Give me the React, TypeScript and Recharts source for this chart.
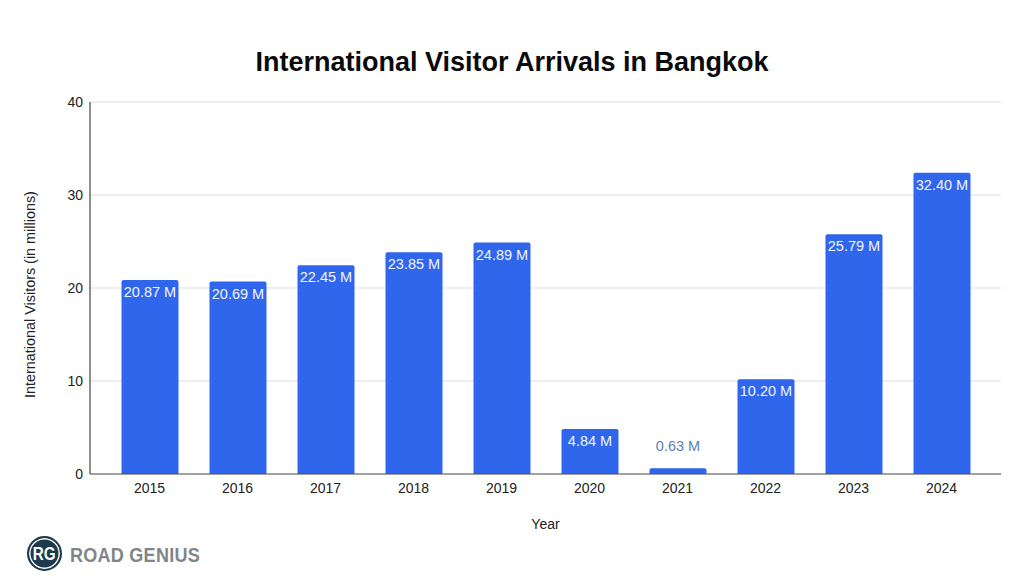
import { BarChart, Bar, XAxis, YAxis, CartesianGrid, LabelList } from "recharts";

const YEARS = ["2015", "2016", "2017", "2018", "2019", "2020", "2021", "2022", "2023", "2024"];
const VISITORS = [20.87, 20.69, 22.45, 23.85, 24.89, 4.84, 0.63, 10.2, 25.79, 32.4];
const Y_TICKS = [0, 10, 20, 30, 40];

const data = YEARS.map((year, i) => ({ year, visitors: VISITORS[i] }));

const FONT = "Liberation Sans, Arial, sans-serif";

function BarValue(props: any) {
  const { x, y, width, value } = props;
  const small = value < 1;
  return (
    <text
      x={x + width / 2}
      y={small ? y - 17 : y + 17}
      textAnchor="middle"
      fontFamily={FONT}
      fontSize={14.5}
      fill={small ? "#5f7db5" : "#f2f5fc"}
    >
      {value.toFixed(2)} M
    </text>
  );
}

export default function App() {
  return (
    <div style={{ position: "absolute", left: 0, top: 0, width: 1024, height: 582, background: "#fff", fontFamily: FONT }}>
      <div
        style={{
          position: "absolute",
          left: 0,
          width: 1024,
          top: 45,
          textAlign: "center",
          fontSize: 27,
          fontWeight: 700,
          color: "#0a0a0a",
          lineHeight: "34px",
        }}
      >
        International Visitor Arrivals in Bangkok
      </div>
      <BarChart
        width={1024}
        height={582}
        data={data}
        margin={{ top: 102, right: 23, bottom: 58, left: 40 }}
      >
        <CartesianGrid vertical={false} stroke="#dddddd" strokeWidth={1} />
        <XAxis
          dataKey="year"
          height={50}
          padding={{ left: 15.5, right: 15.5 }}
          axisLine={{ stroke: "#555555", strokeWidth: 1.2 }}
          tickLine={false}
          tickMargin={3}
          tick={{ fontSize: 14, fill: "#222222", fontFamily: FONT }}
          label={{ value: "Year", position: "insideBottom", offset: -5, fontSize: 14, fill: "#222222", fontFamily: FONT }}
        />
        <YAxis
          width={50}
          domain={[0, 40]}
          ticks={Y_TICKS}
          axisLine={{ stroke: "#444444", strokeWidth: 1.2 }}
          tickLine={false}
          tickMargin={1}
          tick={{ fontSize: 14, fill: "#222222", fontFamily: FONT }}
          label={{
            value: "International Visitors (in millions)",
            angle: -90,
            position: "insideLeft",
            dx: -15,
            dy: 110,
            fontSize: 14.4,
            fill: "#222222",
            fontFamily: FONT,
          }}
        />
        <Bar dataKey="visitors" fill="#2f66ec" barSize={57} radius={[2, 2, 0, 0]} isAnimationActive={false}>
          <LabelList dataKey="visitors" content={BarValue} />
        </Bar>
      </BarChart>
      <div
        style={{
          position: "absolute",
          left: 27,
          top: 536,
          width: 35,
          height: 35,
          borderRadius: "50%",
          background: "#1e3a4c",
          color: "#fff",
          boxSizing: "border-box",
          border: "2px solid #1e3a4c",
          boxShadow: "inset 0 0 0 1.5px #ffffff",
          textAlign: "center",
          fontSize: 19,
          fontWeight: 700,
          lineHeight: "31px",
        }}
      >
        <span style={{ display: "inline-block", transform: "scaleX(0.8)" }}>RG</span>
      </div>
      <div
        style={{
          position: "absolute",
          left: 70,
          top: 543,
          fontSize: 20,
          fontWeight: 700,
          lineHeight: "24px",
          color: "#7f8689",
          letterSpacing: 0.3,
          whiteSpace: "pre",
          transform: "scaleX(0.9)",
          transformOrigin: "left center",
        }}
      >
        ROAD GENIUS
      </div>
    </div>
  );
}
